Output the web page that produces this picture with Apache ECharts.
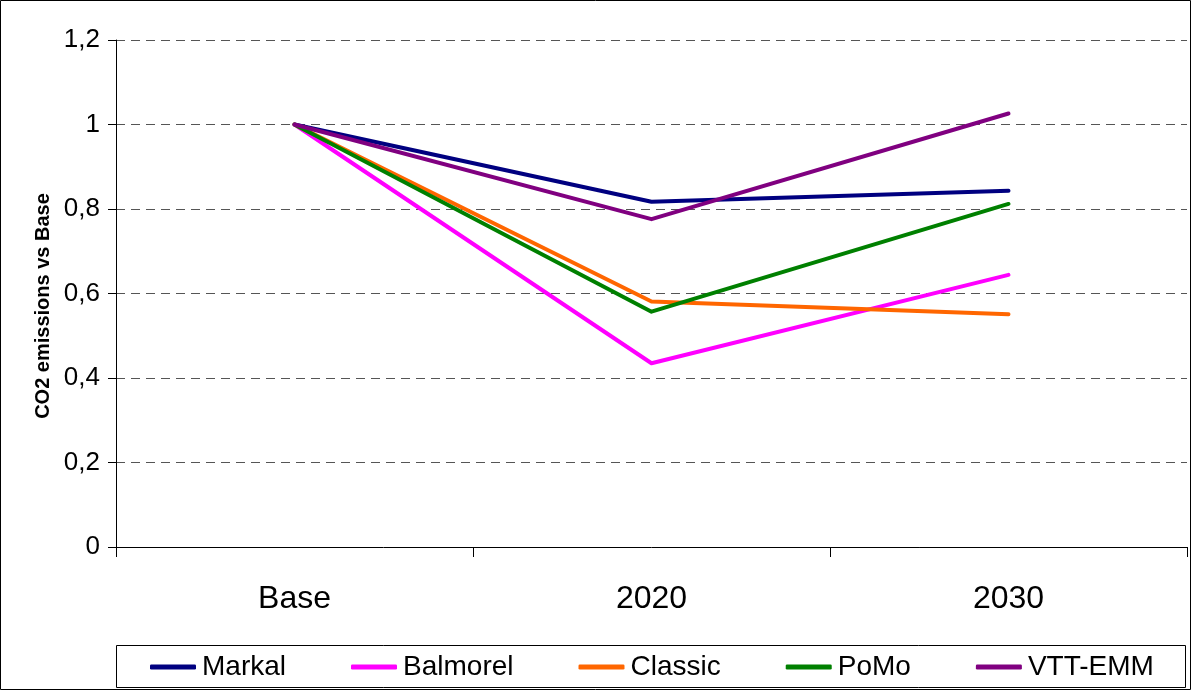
<!DOCTYPE html>
<html>
<head>
<meta charset="utf-8">
<script src="https://cdn.jsdelivr.net/npm/echarts@6/dist/echarts.min.js"></script>
<style>
html,body{margin:0;padding:0;background:#fff;}
#c{width:1192px;height:691px;}
</style>
</head>
<body>
<div id="c"></div>
<script>
var categories = ['Base', '2020', '2030'];
var markal   = [1, 0.817, 0.843];
var balmorel = [1, 0.435, 0.644];
var classic  = [1, 0.581, 0.551];
var pomo     = [1, 0.557, 0.812];
var vttemm   = [1, 0.776, 1.026];
var seriesNames = ['Markal', 'Balmorel', 'Classic', 'PoMo', 'VTT-EMM'];
var seriesColors = ['#000080', '#FF00FF', '#FF6600', '#008000', '#800080'];
var seriesData = [markal, balmorel, classic, pomo, vttemm];

var FONT = '"Liberation Sans", Arial, sans-serif';
var chart = echarts.init(document.getElementById('c'), null, {renderer: 'canvas'});

var series = seriesNames.map(function (n, i) {
  return {
    name: n,
    type: 'line',
    data: seriesData[i],
    symbol: 'none',
    color: seriesColors[i],
    lineStyle: {width: 4, color: seriesColors[i], cap: 'round', join: 'round'},
    emphasis: {disabled: true},
    animation: false
  };
});

chart.setOption({
  backgroundColor: '#fff',
  animation: false,
  grid: {left: 116, right: 5, top: 40, bottom: 144, containLabel: false},
  xAxis: {
    type: 'category',
    data: categories,
    boundaryGap: true,
    axisLine: {show: true, lineStyle: {color: '#000', width: 1}},
    axisTick: {show: true, length: 10, lineStyle: {color: '#000'}},
    axisLabel: {fontFamily: FONT, fontSize: 32, color: '#000', margin: 36},
    splitLine: {show: false}
  },
  yAxis: {
    type: 'value',
    min: 0, max: 1.2, interval: 0.2,
    axisLine: {show: true, lineStyle: {color: '#000', width: 1}},
    axisTick: {show: true, length: 8, lineStyle: {color: '#000'}},
    axisLabel: {
      fontFamily: FONT, fontSize: 26, color: '#000', margin: 16,
      formatter: function (v) { return (Math.round(v * 10) / 10).toString().replace('.', ','); }
    },
    splitLine: {show: true, lineStyle: {color: '#555', type: [9, 6], width: 1}}
  },
  legend: {
    left: 150, top: 653, padding: 0,
    itemWidth: 46, itemHeight: 5, itemGap: 65,
    icon: 'roundRect',
    textStyle: {fontFamily: FONT, fontSize: 28, color: '#000', padding: [0, 0, 0, 1]},
    data: seriesNames,
    selectedMode: false
  },
  graphic: [
    {type: 'rect', shape: {x: 0.5, y: 0.5, width: 1190, height: 689}, style: {fill: 'none', stroke: '#000', lineWidth: 1}, silent: true, z: -1},
    {type: 'rect', shape: {x: 116.5, y: 645.5, width: 1069, height: 42}, style: {fill: 'none', stroke: '#000', lineWidth: 1}, silent: true},
    {type: 'text', x: 43, y: 306, rotation: Math.PI / 2,
      style: {text: 'CO2 emissions vs Base', font: 'bold 20px ' + FONT, fill: '#000', align: 'center', verticalAlign: 'middle'}, silent: true}
  ],
  series: series
});
</script>
</body>
</html>
